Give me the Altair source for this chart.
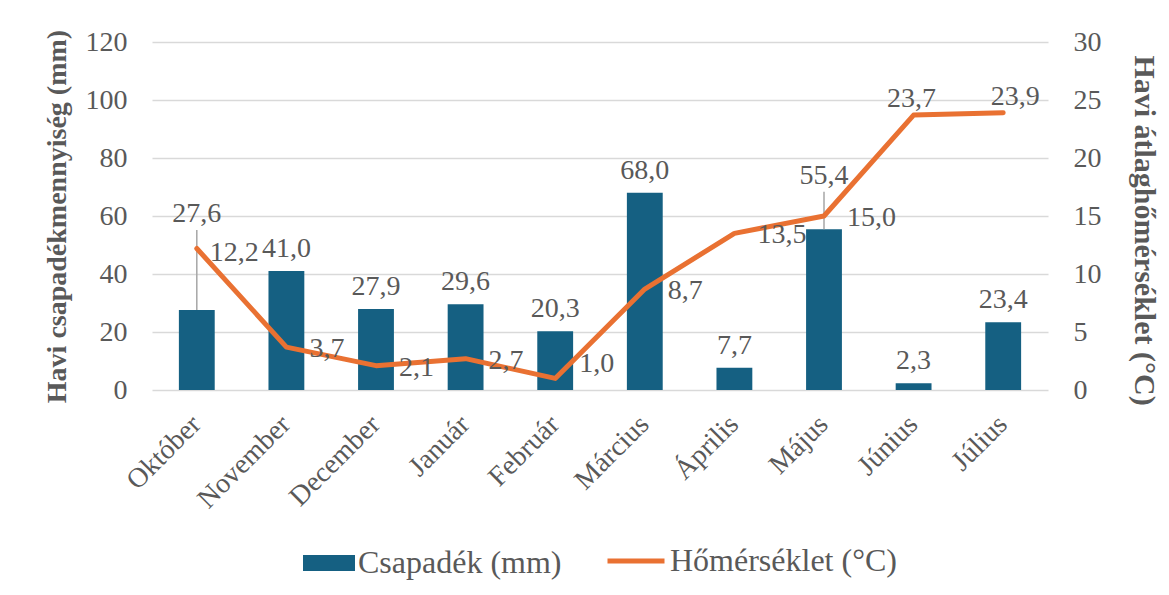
import altair as alt
import pandas as pd

months = ["Október", "November", "December", "Január", "Február",
          "Március", "Április", "Május", "Június", "Július"]
precip = [27.6, 41.0, 27.9, 29.6, 20.3, 68.0, 7.7, 55.4, 2.3, 23.4]
temp = [12.2, 3.7, 2.1, 2.7, 1.0, 8.7, 13.5, 15.0, 23.7, 23.9]

FONT = "Liberation Serif"
GRAY = "#595959"
GRID = "#d9d9d9"
BLUE = "#156082"
ORANGE = "#E97132"
FS = 28
LFS = 32

df = pd.DataFrame({
    "month": months,
    "precip": precip,
    "temp": temp,
    "idx": list(range(len(months))),
})
df["plabel"] = [f"{v:.1f}".replace(".", ",") for v in precip]
df["tlabel"] = [f"{v:.1f}".replace(".", ",") for v in temp]

base = alt.Chart(df)

xaxis = alt.Axis(title=None, labelAngle=-45, labelFontSize=FS, labelColor=GRAY,
                 labelFont=FONT, ticks=False, domain=False, grid=False,
                 labelPadding=20, labelOffset=-10)
xscale = alt.Scale(paddingInner=0.6, paddingOuter=0.3)
xenc = alt.X("month:N", sort=months, scale=xscale, axis=xaxis)

yL = alt.Scale(domain=[0, 120])
yR = alt.Scale(domain=[0, 30])
yLaxis = alt.Axis(title="Havi csapadékmennyiség (mm)", values=[0, 20, 40, 60, 80, 100, 120],
                  grid=True, gridColor=GRID, gridWidth=1.5, domain=False, ticks=False,
                  labelPadding=25, titlePadding=14)
yRaxis = alt.Axis(orient="right", title="Havi átlaghőmérséklet (°C)",
                  values=[0, 5, 10, 15, 20, 25, 30], grid=False, domain=False,
                  ticks=False, labelPadding=25, titlePadding=27, titleFontSize=30,
                  titleY=188)
yPenc = alt.Y("precip:Q", scale=yL, axis=yLaxis)
yTenc = alt.Y("temp:Q", scale=yR, axis=yRaxis)

bars = base.transform_calculate(series="'Csapadék (mm)'").mark_bar().encode(
    x=xenc,
    y=yPenc,
    fill=alt.Fill("series:N", scale=alt.Scale(domain=["Csapadék (mm)"], range=[BLUE]),
                  legend=alt.Legend(orient="none", legendX=151, legendY=495, title=None,
                                    symbolType="M-1,-0.3077H1V0.3077H-1Z", symbolSize=2704,
                                    symbolStrokeWidth=0, labelFontSize=LFS, labelFont=FONT,
                                    labelColor=GRAY, labelOffset=3, labelLimit=0, padding=0)),
)

def ptext(filt, dy):
    return base.transform_filter(filt).mark_text(
        dy=dy, baseline="alphabetic", fontSize=FS, font=FONT, color=GRAY
    ).encode(x=xenc, y=yPenc, text="plabel:N")

ptext_normal = ptext("datum.month != 'Október' && datum.month != 'Május'", -14)
ptext_okt = ptext("datum.month == 'Október'", -88)
ptext_maj = ptext("datum.month == 'Május'", -45)

leader = base.transform_filter(
    "datum.month == 'Október' || datum.month == 'Május'"
).transform_calculate(
    top="datum.month == 'Október' ? datum.precip + 27.6 : datum.precip + 13"
).mark_rule(color="#a6a6a6", strokeWidth=1.5).encode(
    x=xenc, y=yPenc, y2="top:Q")

left = alt.layer(bars, leader, ptext_normal, ptext_okt, ptext_maj)

line = base.transform_calculate(series="'Hőmérséklet (°C)'").mark_line(
    strokeWidth=5, strokeCap="round", strokeJoin="round").encode(
    x=xenc,
    y=yTenc,
    order="idx:Q",
    stroke=alt.Stroke("series:N", scale=alt.Scale(domain=["Hőmérséklet (°C)"], range=[ORANGE]),
                      legend=alt.Legend(orient="none", legendX=453, legendY=488, title=None,
                                        symbolType="stroke", symbolSize=3249,
                                        symbolStrokeWidth=5, labelFontSize=LFS, labelFont=FONT,
                                        labelColor=GRAY, labelOffset=3, labelLimit=0, padding=0)),
)

def ttext(filt, align, baseline, dx, dy):
    return base.transform_filter(filt).mark_text(
        align=align, baseline=baseline, dx=dx, dy=dy, fontSize=FS, font=FONT, color=GRAY
    ).encode(x=xenc, y=yTenc, text="tlabel:N")

right_months = ("datum.month != 'Október' && datum.month != 'Február' && "
                "datum.month != 'Június' && datum.month != 'Július'")
ttext_right = ttext(right_months, "left", "middle", 23, 2)
ttext_okt = ttext("datum.month == 'Október'", "left", "middle", 13, 5)
ttext_feb = ttext("datum.month == 'Február'", "left", "middle", 24, -14)
ttext_jun = ttext("datum.month == 'Június'", "center", "alphabetic", -2, -8)
ttext_jul = ttext("datum.month == 'Július'", "center", "alphabetic", 12, -8)

right = alt.layer(line, ttext_right, ttext_okt, ttext_feb, ttext_jun, ttext_jul)

chart = alt.layer(left, right).resolve_scale(y="independent").properties(
    width=896, height=348,
    padding={"left": 144, "top": 34, "right": 112, "bottom": 200},
    autosize=alt.AutoSizeParams(type="none"),
).configure_view(stroke=None).configure_axis(
    labelFont=FONT, labelFontSize=FS, labelColor=GRAY,
    titleFont=FONT, titleFontSize=28, titleFontWeight="bold", titleColor=GRAY,
)

chart.save("out.html", embed_options={"renderer": "svg", "actions": False})
